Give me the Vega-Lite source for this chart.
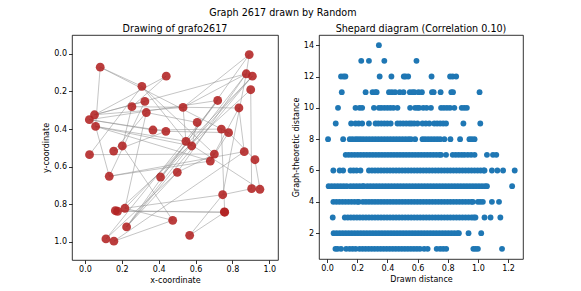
{
  "$schema": "https://vega.github.io/schema/vega-lite/v6.json",
  "padding": {"left": 42, "top": 8, "right": 5, "bottom": 3},
  "title": {"text": "Graph 2617 drawn by Random", "anchor": "middle", "fontSize": 9.6, "offset": 6},
  "spacing": 12,
  "datasets": {
    "nodes": [
      {"id":1,"x":0.891,"y":0.004},{"id":2,"x":0.083,"y":0.071},{"id":3,"x":0.441,"y":0.119},{"id":4,"x":0.309,"y":0.173},
      {"id":5,"x":0.875,"y":0.106},{"id":6,"x":0.908,"y":0.119},{"id":7,"x":0.899,"y":0.191},{"id":8,"x":0.325,"y":0.253},
      {"id":9,"x":0.255,"y":0.281},{"id":10,"x":0.333,"y":0.312},{"id":11,"x":0.532,"y":0.285},{"id":12,"x":0.72,"y":0.248},
      {"id":13,"x":0.835,"y":0.288},{"id":14,"x":0.052,"y":0.324},{"id":15,"x":0.024,"y":0.35},{"id":16,"x":0.058,"y":0.386},
      {"id":17,"x":0.609,"y":0.365},{"id":18,"x":0.369,"y":0.405},{"id":19,"x":0.439,"y":0.412},{"id":20,"x":0.74,"y":0.4},
      {"id":21,"x":0.779,"y":0.419},{"id":22,"x":0.548,"y":0.465},{"id":23,"x":0.579,"y":0.49},{"id":24,"x":0.203,"y":0.49},
      {"id":25,"x":0.156,"y":0.517},{"id":26,"x":0.864,"y":0.52},{"id":27,"x":0.025,"y":0.536},{"id":28,"x":0.702,"y":0.533},
      {"id":29,"x":0.68,"y":0.57},{"id":30,"x":0.922,"y":0.563},{"id":31,"x":0.132,"y":0.651},{"id":32,"x":0.41,"y":0.655},
      {"id":33,"x":0.501,"y":0.63},{"id":34,"x":0.904,"y":0.717},{"id":35,"x":0.949,"y":0.72},{"id":36,"x":0.747,"y":0.749},
      {"id":37,"x":0.217,"y":0.821},{"id":38,"x":0.165,"y":0.834},{"id":39,"x":0.177,"y":0.837},{"id":40,"x":0.758,"y":0.842},
      {"id":41,"x":0.476,"y":0.885},{"id":42,"x":0.226,"y":0.92},{"id":43,"x":0.568,"y":0.965},{"id":44,"x":0.114,"y":0.984},
      {"id":45,"x":0.157,"y":0.996},{"id":46,"x":0.756,"y":0.84}
    ],
    "edges": [
      {"s":2,"t":16},{"s":2,"t":4},{"s":2,"t":21},{"s":3,"t":14},{"s":3,"t":9},{"s":4,"t":27},{"s":4,"t":22},{"s":4,"t":28},
      {"s":8,"t":14},{"s":8,"t":31},{"s":14,"t":5},{"s":14,"t":11},{"s":15,"t":12},{"s":15,"t":18},{"s":15,"t":19},{"s":16,"t":29},
      {"s":16,"t":22},{"s":16,"t":31},{"s":16,"t":23},{"s":11,"t":22},{"s":11,"t":1},{"s":11,"t":5},{"s":13,"t":29},{"s":13,"t":26},
      {"s":5,"t":36},{"s":7,"t":34},{"s":6,"t":37},{"s":5,"t":42},{"s":5,"t":33},{"s":6,"t":32},{"s":20,"t":40},{"s":22,"t":35},
      {"s":24,"t":9},{"s":24,"t":41},{"s":25,"t":19},{"s":31,"t":26},{"s":31,"t":29},{"s":30,"t":35},{"s":43,"t":36},{"s":36,"t":34},
      {"s":37,"t":36},{"s":38,"t":40},{"s":39,"t":40},{"s":45,"t":41},{"s":44,"t":33},{"s":42,"t":33},{"s":42,"t":6},{"s":41,"t":37},
      {"s":12,"t":44},{"s":17,"t":23},{"s":28,"t":27},{"s":1,"t":5},{"s":10,"t":37},{"s":1,"t":42},{"s":7,"t":39},{"s":12,"t":32},
      {"s":21,"t":30},{"s":17,"t":10},{"s":18,"t":20},{"s":19,"t":21},{"s":25,"t":10},{"s":26,"t":45},{"s":43,"t":40},{"s":28,"t":33},
      {"s":29,"t":21},{"s":9,"t":13}
    ],
    "shepard": [
      {"g":14,"d":0.344},
      {"g":13,"d":0.227},{"g":13,"d":0.278},{"g":13,"d":0.38},{"g":13,"d":0.593},
      {"g":12,"d":0.093},{"g":12,"d":0.11},{"g":12,"d":0.122},{"g":12,"d":0.349},{"g":12,"d":0.427},{"g":12,"d":0.509},{"g":12,"d":0.52},{"g":12,"d":0.538},{"g":12,"d":0.693},{"g":12,"d":0.816},{"g":12,"d":0.833},{"g":12,"d":0.856},
      {"g":11,"d":0.098},{"g":11,"d":0.256},{"g":11,"d":0.302},{"g":11,"d":0.32},{"g":11,"d":0.329},{"g":11,"d":0.411},{"g":11,"d":0.43},{"g":11,"d":0.451},{"g":11,"d":0.482},{"g":11,"d":0.507},{"g":11,"d":0.549},{"g":11,"d":0.567},{"g":11,"d":0.58},{"g":11,"d":0.607},{"g":11,"d":0.629},{"g":11,"d":0.696},{"g":11,"d":0.707},{"g":11,"d":0.753},{"g":11,"d":0.824},{"g":11,"d":0.835},{"g":11,"d":1.011},
      {"g":10,"d":0.073},{"g":10,"d":0.189},{"g":10,"d":0.216},{"g":10,"d":0.233},{"g":10,"d":0.311},{"g":10,"d":0.344},{"g":10,"d":0.36},{"g":10,"d":0.38},{"g":10,"d":0.4},{"g":10,"d":0.42},{"g":10,"d":0.44},{"g":10,"d":0.467},{"g":10,"d":0.551},{"g":10,"d":0.584},{"g":10,"d":0.6},{"g":10,"d":0.611},{"g":10,"d":0.638},{"g":10,"d":0.66},{"g":10,"d":0.689},{"g":10,"d":0.756},{"g":10,"d":0.775},{"g":10,"d":0.795},{"g":10,"d":0.815},{"g":10,"d":0.844},{"g":10,"d":0.893},{"g":10,"d":0.91},{"g":10,"d":0.927},
      {"g":9,"d":0.058},{"g":9,"d":0.16},{"g":9,"d":0.189},{"g":9,"d":0.21},{"g":9,"d":0.233},{"g":9,"d":0.278},{"g":9,"d":0.322},{"g":9,"d":0.34},{"g":9,"d":0.36},{"g":9,"d":0.38},{"g":9,"d":0.4},{"g":9,"d":0.422},{"g":9,"d":0.467},{"g":9,"d":0.485},{"g":9,"d":0.505},{"g":9,"d":0.525},{"g":9,"d":0.545},{"g":9,"d":0.56},{"g":9,"d":0.578},{"g":9,"d":0.6},{"g":9,"d":0.633},{"g":9,"d":0.655},{"g":9,"d":0.678},{"g":9,"d":0.711},{"g":9,"d":0.73},{"g":9,"d":0.75},{"g":9,"d":0.77},{"g":9,"d":0.789},{"g":9,"d":0.904},{"g":9,"d":1.016},
      {"g":8,"d":0.007},{"g":8,"d":0.107},{"g":8,"d":0.151},{"g":8,"d":0.169},{"g":8,"d":0.189},{"g":8,"d":0.205},{"g":8,"d":0.222},{"g":8,"d":0.24},{"g":8,"d":0.26},{"g":8,"d":0.28},{"g":8,"d":0.3},{"g":8,"d":0.32},{"g":8,"d":0.34},{"g":8,"d":0.36},{"g":8,"d":0.38},{"g":8,"d":0.4},{"g":8,"d":0.42},{"g":8,"d":0.44},{"g":8,"d":0.46},{"g":8,"d":0.48},{"g":8,"d":0.5},{"g":8,"d":0.52},{"g":8,"d":0.54},{"g":8,"d":0.556},{"g":8,"d":0.584},{"g":8,"d":0.633},{"g":8,"d":0.65},{"g":8,"d":0.67},{"g":8,"d":0.69},{"g":8,"d":0.71},{"g":8,"d":0.73},{"g":8,"d":0.75},{"g":8,"d":0.778},{"g":8,"d":0.818},{"g":8,"d":0.882},{"g":8,"d":0.944},{"g":8,"d":0.96},{"g":8,"d":0.978},
      {"g":7,"d":0.124},{"g":7,"d":0.144},{"g":7,"d":0.164},{"g":7,"d":0.184},{"g":7,"d":0.204},{"g":7,"d":0.224},{"g":7,"d":0.244},{"g":7,"d":0.264},{"g":7,"d":0.284},{"g":7,"d":0.304},{"g":7,"d":0.324},{"g":7,"d":0.344},{"g":7,"d":0.364},{"g":7,"d":0.384},{"g":7,"d":0.404},{"g":7,"d":0.424},{"g":7,"d":0.444},{"g":7,"d":0.464},{"g":7,"d":0.484},{"g":7,"d":0.504},{"g":7,"d":0.524},{"g":7,"d":0.544},{"g":7,"d":0.564},{"g":7,"d":0.584},{"g":7,"d":0.604},{"g":7,"d":0.624},{"g":7,"d":0.644},{"g":7,"d":0.664},{"g":7,"d":0.684},{"g":7,"d":0.704},{"g":7,"d":0.724},{"g":7,"d":0.744},{"g":7,"d":0.756},{"g":7,"d":0.789},{"g":7,"d":0.833},{"g":7,"d":0.853},{"g":7,"d":0.873},{"g":7,"d":0.893},{"g":7,"d":0.911},{"g":7,"d":0.933},{"g":7,"d":0.955},{"g":7,"d":0.978},{"g":7,"d":1.06},{"g":7,"d":1.1},{"g":7,"d":1.122},
      {"g":6,"d":0.042},{"g":6,"d":0.084},{"g":6,"d":0.107},{"g":6,"d":0.156},{"g":6,"d":0.176},{"g":6,"d":0.196},{"g":6,"d":0.222},{"g":6,"d":0.278},{"g":6,"d":0.298},{"g":6,"d":0.318},{"g":6,"d":0.338},{"g":6,"d":0.358},{"g":6,"d":0.378},{"g":6,"d":0.398},{"g":6,"d":0.418},{"g":6,"d":0.438},{"g":6,"d":0.458},{"g":6,"d":0.478},{"g":6,"d":0.498},{"g":6,"d":0.518},{"g":6,"d":0.538},{"g":6,"d":0.558},{"g":6,"d":0.578},{"g":6,"d":0.598},{"g":6,"d":0.618},{"g":6,"d":0.638},{"g":6,"d":0.658},{"g":6,"d":0.678},{"g":6,"d":0.698},{"g":6,"d":0.718},{"g":6,"d":0.738},{"g":6,"d":0.758},{"g":6,"d":0.778},{"g":6,"d":0.798},{"g":6,"d":0.818},{"g":6,"d":0.838},{"g":6,"d":0.858},{"g":6,"d":0.878},{"g":6,"d":0.898},{"g":6,"d":0.918},{"g":6,"d":0.938},{"g":6,"d":0.958},{"g":6,"d":0.978},{"g":6,"d":0.998},{"g":6,"d":1.018},{"g":6,"d":1.038},{"g":6,"d":1.044},{"g":6,"d":1.093},{"g":6,"d":1.129},{"g":6,"d":1.167},{"g":6,"d":1.244},
      {"g":5,"d":0.011},{"g":5,"d":0.031},{"g":5,"d":0.051},{"g":5,"d":0.071},{"g":5,"d":0.091},{"g":5,"d":0.111},{"g":5,"d":0.131},{"g":5,"d":0.156},{"g":5,"d":0.176},{"g":5,"d":0.196},{"g":5,"d":0.216},{"g":5,"d":0.236},{"g":5,"d":0.244},{"g":5,"d":0.267},{"g":5,"d":0.287},{"g":5,"d":0.307},{"g":5,"d":0.327},{"g":5,"d":0.347},{"g":5,"d":0.367},{"g":5,"d":0.387},{"g":5,"d":0.407},{"g":5,"d":0.427},{"g":5,"d":0.447},{"g":5,"d":0.467},{"g":5,"d":0.487},{"g":5,"d":0.507},{"g":5,"d":0.527},{"g":5,"d":0.547},{"g":5,"d":0.567},{"g":5,"d":0.587},{"g":5,"d":0.607},{"g":5,"d":0.627},{"g":5,"d":0.647},{"g":5,"d":0.667},{"g":5,"d":0.687},{"g":5,"d":0.707},{"g":5,"d":0.727},{"g":5,"d":0.747},{"g":5,"d":0.767},{"g":5,"d":0.787},{"g":5,"d":0.807},{"g":5,"d":0.827},{"g":5,"d":0.847},{"g":5,"d":0.867},{"g":5,"d":0.887},{"g":5,"d":0.907},{"g":5,"d":0.927},{"g":5,"d":0.947},{"g":5,"d":0.967},{"g":5,"d":0.987},{"g":5,"d":1.007},{"g":5,"d":1.027},{"g":5,"d":1.047},{"g":5,"d":1.06},{"g":5,"d":1.227},
      {"g":4,"d":0.042},{"g":4,"d":0.062},{"g":4,"d":0.082},{"g":4,"d":0.102},{"g":4,"d":0.122},{"g":4,"d":0.142},{"g":4,"d":0.162},{"g":4,"d":0.182},{"g":4,"d":0.202},{"g":4,"d":0.211},{"g":4,"d":0.238},{"g":4,"d":0.258},{"g":4,"d":0.278},{"g":4,"d":0.298},{"g":4,"d":0.318},{"g":4,"d":0.338},{"g":4,"d":0.358},{"g":4,"d":0.378},{"g":4,"d":0.398},{"g":4,"d":0.418},{"g":4,"d":0.438},{"g":4,"d":0.458},{"g":4,"d":0.478},{"g":4,"d":0.498},{"g":4,"d":0.518},{"g":4,"d":0.538},{"g":4,"d":0.558},{"g":4,"d":0.578},{"g":4,"d":0.598},{"g":4,"d":0.618},{"g":4,"d":0.638},{"g":4,"d":0.658},{"g":4,"d":0.678},{"g":4,"d":0.698},{"g":4,"d":0.718},{"g":4,"d":0.738},{"g":4,"d":0.758},{"g":4,"d":0.778},{"g":4,"d":0.798},{"g":4,"d":0.818},{"g":4,"d":0.838},{"g":4,"d":0.858},{"g":4,"d":0.878},{"g":4,"d":0.898},{"g":4,"d":0.918},{"g":4,"d":0.938},{"g":4,"d":0.958},{"g":4,"d":0.967},{"g":4,"d":1.0},{"g":4,"d":1.016},{"g":4,"d":1.033},{"g":4,"d":1.093},{"g":4,"d":1.14},
      {"g":3,"d":0.038},{"g":3,"d":0.118},{"g":3,"d":0.138},{"g":3,"d":0.158},{"g":3,"d":0.178},{"g":3,"d":0.198},{"g":3,"d":0.218},{"g":3,"d":0.238},{"g":3,"d":0.258},{"g":3,"d":0.278},{"g":3,"d":0.298},{"g":3,"d":0.318},{"g":3,"d":0.338},{"g":3,"d":0.358},{"g":3,"d":0.378},{"g":3,"d":0.398},{"g":3,"d":0.418},{"g":3,"d":0.438},{"g":3,"d":0.458},{"g":3,"d":0.478},{"g":3,"d":0.498},{"g":3,"d":0.518},{"g":3,"d":0.538},{"g":3,"d":0.558},{"g":3,"d":0.578},{"g":3,"d":0.598},{"g":3,"d":0.618},{"g":3,"d":0.638},{"g":3,"d":0.658},{"g":3,"d":0.678},{"g":3,"d":0.698},{"g":3,"d":0.718},{"g":3,"d":0.738},{"g":3,"d":0.758},{"g":3,"d":0.778},{"g":3,"d":0.798},{"g":3,"d":0.818},{"g":3,"d":0.838},{"g":3,"d":0.858},{"g":3,"d":0.878},{"g":3,"d":0.898},{"g":3,"d":0.918},{"g":3,"d":0.938},{"g":3,"d":0.958},{"g":3,"d":0.973},{"g":3,"d":0.984},{"g":3,"d":1.044},{"g":3,"d":1.084},{"g":3,"d":1.149},
      {"g":2,"d":0.044},{"g":2,"d":0.064},{"g":2,"d":0.084},{"g":2,"d":0.104},{"g":2,"d":0.124},{"g":2,"d":0.144},{"g":2,"d":0.164},{"g":2,"d":0.184},{"g":2,"d":0.204},{"g":2,"d":0.224},{"g":2,"d":0.244},{"g":2,"d":0.264},{"g":2,"d":0.284},{"g":2,"d":0.304},{"g":2,"d":0.324},{"g":2,"d":0.344},{"g":2,"d":0.364},{"g":2,"d":0.384},{"g":2,"d":0.404},{"g":2,"d":0.424},{"g":2,"d":0.444},{"g":2,"d":0.464},{"g":2,"d":0.484},{"g":2,"d":0.504},{"g":2,"d":0.524},{"g":2,"d":0.544},{"g":2,"d":0.564},{"g":2,"d":0.584},{"g":2,"d":0.604},{"g":2,"d":0.624},{"g":2,"d":0.644},{"g":2,"d":0.664},{"g":2,"d":0.684},{"g":2,"d":0.704},{"g":2,"d":0.724},{"g":2,"d":0.744},{"g":2,"d":0.764},{"g":2,"d":0.784},{"g":2,"d":0.804},{"g":2,"d":0.824},{"g":2,"d":0.844},{"g":2,"d":0.864},{"g":2,"d":0.874},{"g":2,"d":0.938},{"g":2,"d":1.022},
      {"g":1,"d":0.056},{"g":1,"d":0.07},{"g":1,"d":0.093},{"g":1,"d":0.127},{"g":1,"d":0.15},{"g":1,"d":0.17},{"g":1,"d":0.19},{"g":1,"d":0.216},{"g":1,"d":0.236},{"g":1,"d":0.256},{"g":1,"d":0.276},{"g":1,"d":0.296},{"g":1,"d":0.316},{"g":1,"d":0.336},{"g":1,"d":0.356},{"g":1,"d":0.376},{"g":1,"d":0.396},{"g":1,"d":0.416},{"g":1,"d":0.436},{"g":1,"d":0.456},{"g":1,"d":0.476},{"g":1,"d":0.496},{"g":1,"d":0.516},{"g":1,"d":0.536},{"g":1,"d":0.556},{"g":1,"d":0.576},{"g":1,"d":0.596},{"g":1,"d":0.616},{"g":1,"d":0.644},{"g":1,"d":0.667},{"g":1,"d":0.727},{"g":1,"d":0.75},{"g":1,"d":0.77},{"g":1,"d":0.79},{"g":1,"d":0.97},{"g":1,"d":0.985},{"g":1,"d":1.0},{"g":1,"d":1.16}
    ]
  },
  "hconcat": [
    {
      "width": 206,
      "height": 225,
      "title": {"text": "Drawing of grafo2617", "offset": 1},
      "layer": [
        {
          "data": {"name": "edges"},
          "transform": [
            {"lookup": "s", "from": {"data": {"name": "nodes"}, "key": "id", "fields": ["x", "y"]}, "as": ["x1", "y1"]},
            {"lookup": "t", "from": {"data": {"name": "nodes"}, "key": "id", "fields": ["x", "y"]}, "as": ["x2", "y2"]}
          ],
          "mark": {"type": "rule", "color": "#8c8c8c", "strokeWidth": 0.6, "opacity": 0.85},
          "encoding": {
            "x": {"field": "x1", "type": "quantitative", "scale": {"domain": [-0.07, 1.047], "nice": false, "zero": false},
                  "axis": {"title": "x-coordinate", "values": [0, 0.2, 0.4, 0.6, 0.8, 1.0], "format": ".1f"}},
            "y": {"field": "y1", "type": "quantitative", "scale": {"domain": [-0.1, 1.096], "nice": false, "zero": false, "reverse": true},
                  "axis": {"title": "y-coordinate", "values": [0, 0.2, 0.4, 0.6, 0.8, 1.0], "format": ".1f"}},
            "x2": {"field": "x2"},
            "y2": {"field": "y2"}
          }
        },
        {
          "data": {"name": "nodes"},
          "mark": {"type": "circle", "size": 78, "color": "#b22222", "opacity": 0.88},
          "encoding": {
            "x": {"field": "x", "type": "quantitative"},
            "y": {"field": "y", "type": "quantitative"}
          }
        }
      ]
    },
    {
      "width": 204,
      "height": 224,
      "title": {"text": "Shepard diagram (Correlation 0.10)", "offset": 1},
      "data": {"name": "shepard"},
      "mark": {"type": "circle", "size": 34, "color": "#1f77b4", "opacity": 1},
      "encoding": {
        "x": {"field": "d", "type": "quantitative", "scale": {"domain": [-0.053, 1.299], "nice": false, "zero": false},
              "axis": {"title": "Drawn distance", "values": [0, 0.2, 0.4, 0.6, 0.8, 1.0, 1.2], "format": ".1f"}},
        "y": {"field": "g", "type": "quantitative", "scale": {"domain": [0.35, 14.65], "nice": false, "zero": false},
              "axis": {"title": "Graph-theoretic distance", "values": [2, 4, 6, 8, 10, 12, 14], "format": "d"}}
      }
    }
  ],
  "config": {
    "font": "DejaVu Sans",
    "view": {"stroke": "#000", "strokeWidth": 0.8},
    "axis": {"grid": false, "domain": false, "tickColor": "#000", "tickSize": 3.5, "tickWidth": 0.8,
             "labelFontSize": 8, "labelColor": "#000", "titleFontSize": 8, "titleFontWeight": "normal", "titleColor": "#000",
             "labelPadding": 2, "titlePadding": 3, "labelFont": "DejaVu Sans", "titleFont": "DejaVu Sans"},
    "title": {"fontSize": 9.6, "fontWeight": "normal", "color": "#000", "font": "DejaVu Sans"}
  }
}
